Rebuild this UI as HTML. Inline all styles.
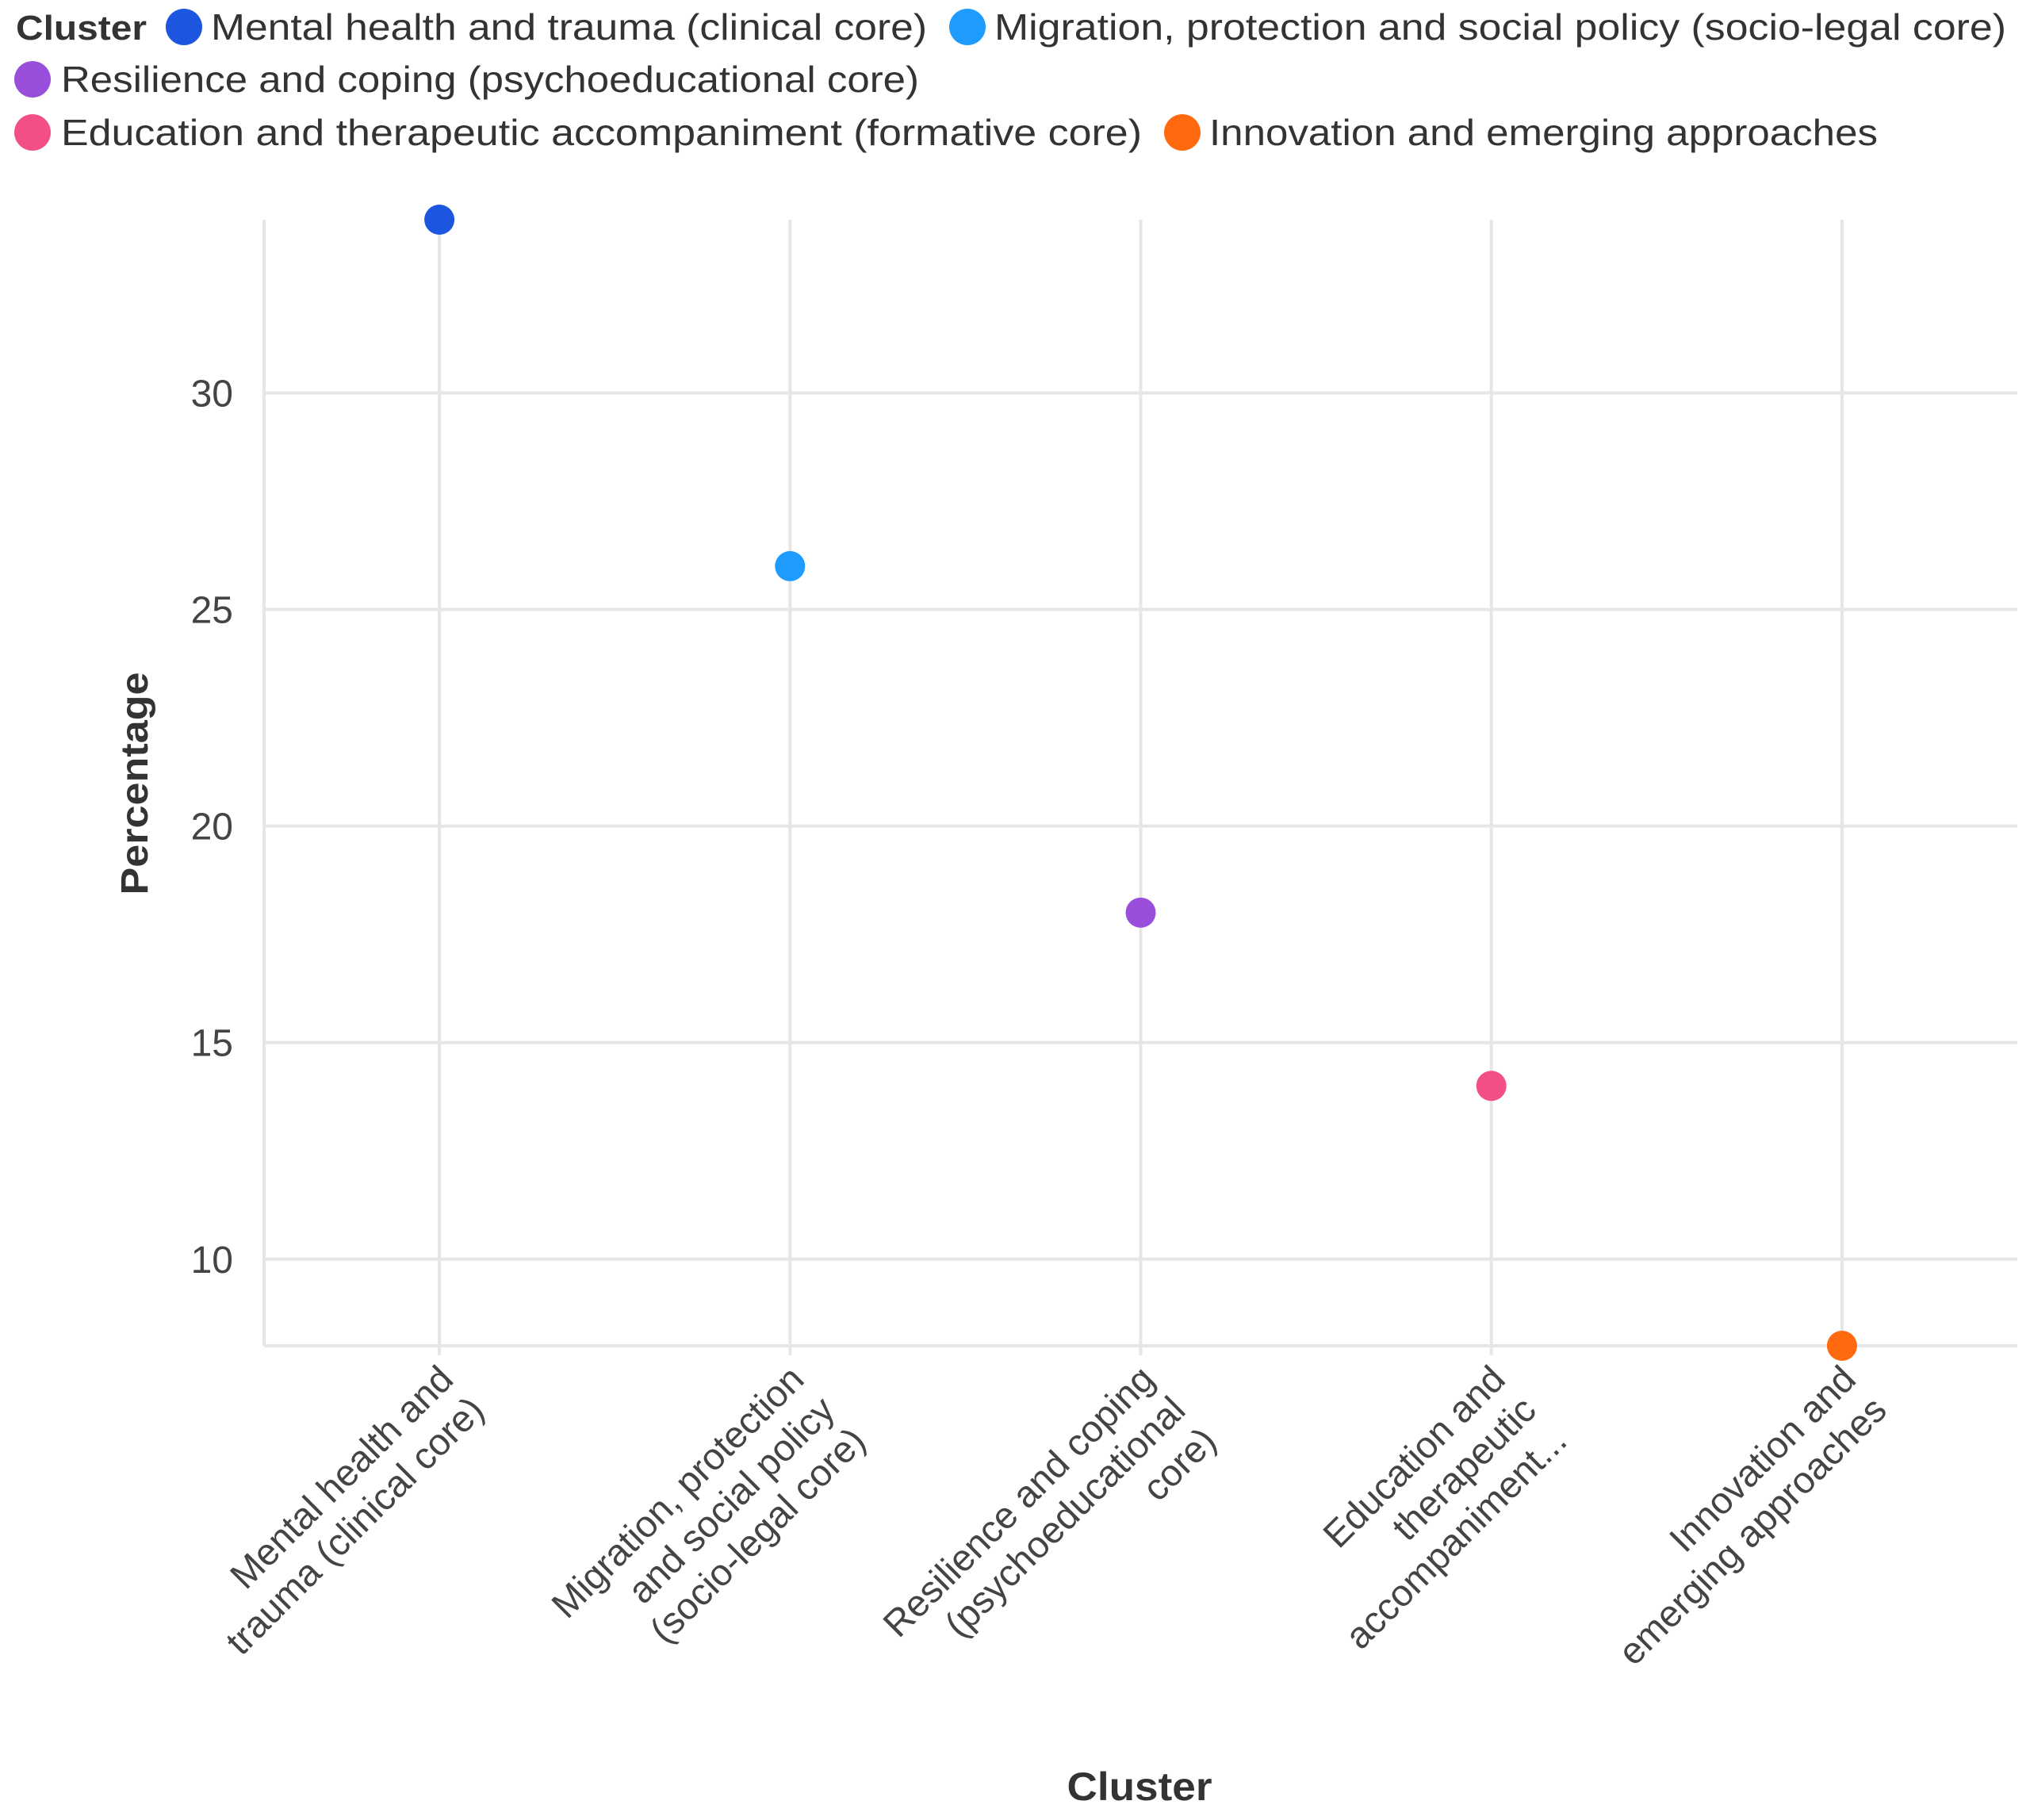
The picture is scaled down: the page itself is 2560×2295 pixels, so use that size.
<!DOCTYPE html>
<html><head><meta charset="utf-8"><style>
html,body{margin:0;padding:0;background:#fff}
svg{display:block;font-family:"Liberation Sans",sans-serif}
</style></head><body>
<svg id="chart" width="2560" height="2295" viewBox="0 0 2560 2295">
<g id="legend"></g>
<g id="grid"></g>
<g id="yticks"></g>
<g id="xticks"></g>
<g id="points"></g>
<text x="186" y="988" transform="rotate(-90 186 988)" text-anchor="middle" font-size="48" font-weight="bold" fill="#333" textLength="281" lengthAdjust="spacingAndGlyphs">Percentage</text>
<text x="1437" y="2270" text-anchor="middle" font-size="50" font-weight="bold" fill="#333" textLength="183" lengthAdjust="spacingAndGlyphs">Cluster</text>
</svg>
<script>
const categories = ["Mental health and trauma (clinical core)","Migration, protection and social policy (socio-legal core)","Resilience and coping (psychoeducational core)","Education and therapeutic accompaniment (formative core)","Innovation and emerging approaches"];
const tickLines = [["Mental health and","trauma (clinical core)"],["Migration, protection","and social policy","(socio-legal core)"],["Resilience and coping","(psychoeducational","core)"],["Education and","therapeutic","accompaniment..."],["Innovation and","emerging approaches"]];
const values = [34, 26, 18, 14, 8];
const colors = ["#1c55de","#1e9bff","#9a4fdc","#f24f89","#ff6a10"];
const yTicks = [10, 15, 20, 25, 30];
const yMin = 8, yMax = 34;

const NS = "http://www.w3.org/2000/svg";
const L = 333, R = 2544, T = 277, B = 1697;
function y(v){ return B - (v - yMin) / (yMax - yMin) * (B - T); }
const step = (R - L) / categories.length;
function x(i){ return L + step * (i + 0.5); }
function mk(tag, attrs, parent){ const e = document.createElementNS(NS, tag); for (const k in attrs) e.setAttribute(k, attrs[k]); parent.appendChild(e); return e; }

const grid = document.getElementById('grid');
const yt = document.getElementById('yticks');
yTicks.forEach(t => {
  const ln = mk('line', {x1: L, x2: R, y1: y(t), y2: y(t), stroke: '#e6e6e6', 'stroke-width': 4}, grid);
  
  
  const tx = mk('text', {x: 294, y: y(t) + 17, 'text-anchor': 'end', 'font-size': 48, fill: '#444'}, yt);
  tx.textContent = t;
  
  
});
const ax = mk('line', {x1: L, x2: R, y1: B, y2: B, stroke: '#e6e6e6', 'stroke-width': 4}, grid);


const ay = mk('line', {x1: L, x2: L, y1: T, y2: B, stroke: '#e6e6e6', 'stroke-width': 4}, grid);



const xt = document.getElementById('xticks');
const pts = document.getElementById('points');
categories.forEach((c, i) => {
  const vl = mk('line', {x1: x(i), x2: x(i), y1: T, y2: B + 12, stroke: '#e6e6e6', 'stroke-width': 4}, grid);
  
  
  const ax0 = x(i) + 20, ay0 = 1742;
  const g = mk('g', {transform: `translate(${ax0},${ay0}) rotate(-45)`}, xt);
  
  
  tickLines[i].forEach((s, j) => {
    const t = mk('text', {x: 0, y: j * 55, 'text-anchor': 'end', 'font-size': 47, fill: '#444'}, g);
    t.textContent = s;
  });
  const p = mk('circle', {cx: x(i), cy: y(values[i]), r: 19, fill: colors[i]}, pts);
  
  
});

const lg = document.getElementById('legend');
const lt = mk('text', {x: 20, y: 50, 'font-size': 44, 'font-weight': 'bold', fill: '#333', textLength: 165, lengthAdjust: 'spacingAndGlyphs'}, lg);
lt.textContent = 'Cluster';


const legPos = [[232, 34, 266, 903], [1220, 34, 1254, 1276], [41, 100, 77, 1082], [41, 167, 77, 1363], [1491, 167, 1525, 843]];
categories.forEach((c, i) => {
  const [cx, cy, tx, tw] = legPos[i];
  const g = mk('g', {}, lg);
  
  
  mk('circle', {cx: cx, cy: cy, r: 23, fill: colors[i]}, g);
  const t = mk('text', {x: tx, y: cy + 16, 'font-size': 46, fill: '#333', textLength: tw, lengthAdjust: 'spacingAndGlyphs'}, g);
  t.textContent = c;
});
</script>
</body></html>
